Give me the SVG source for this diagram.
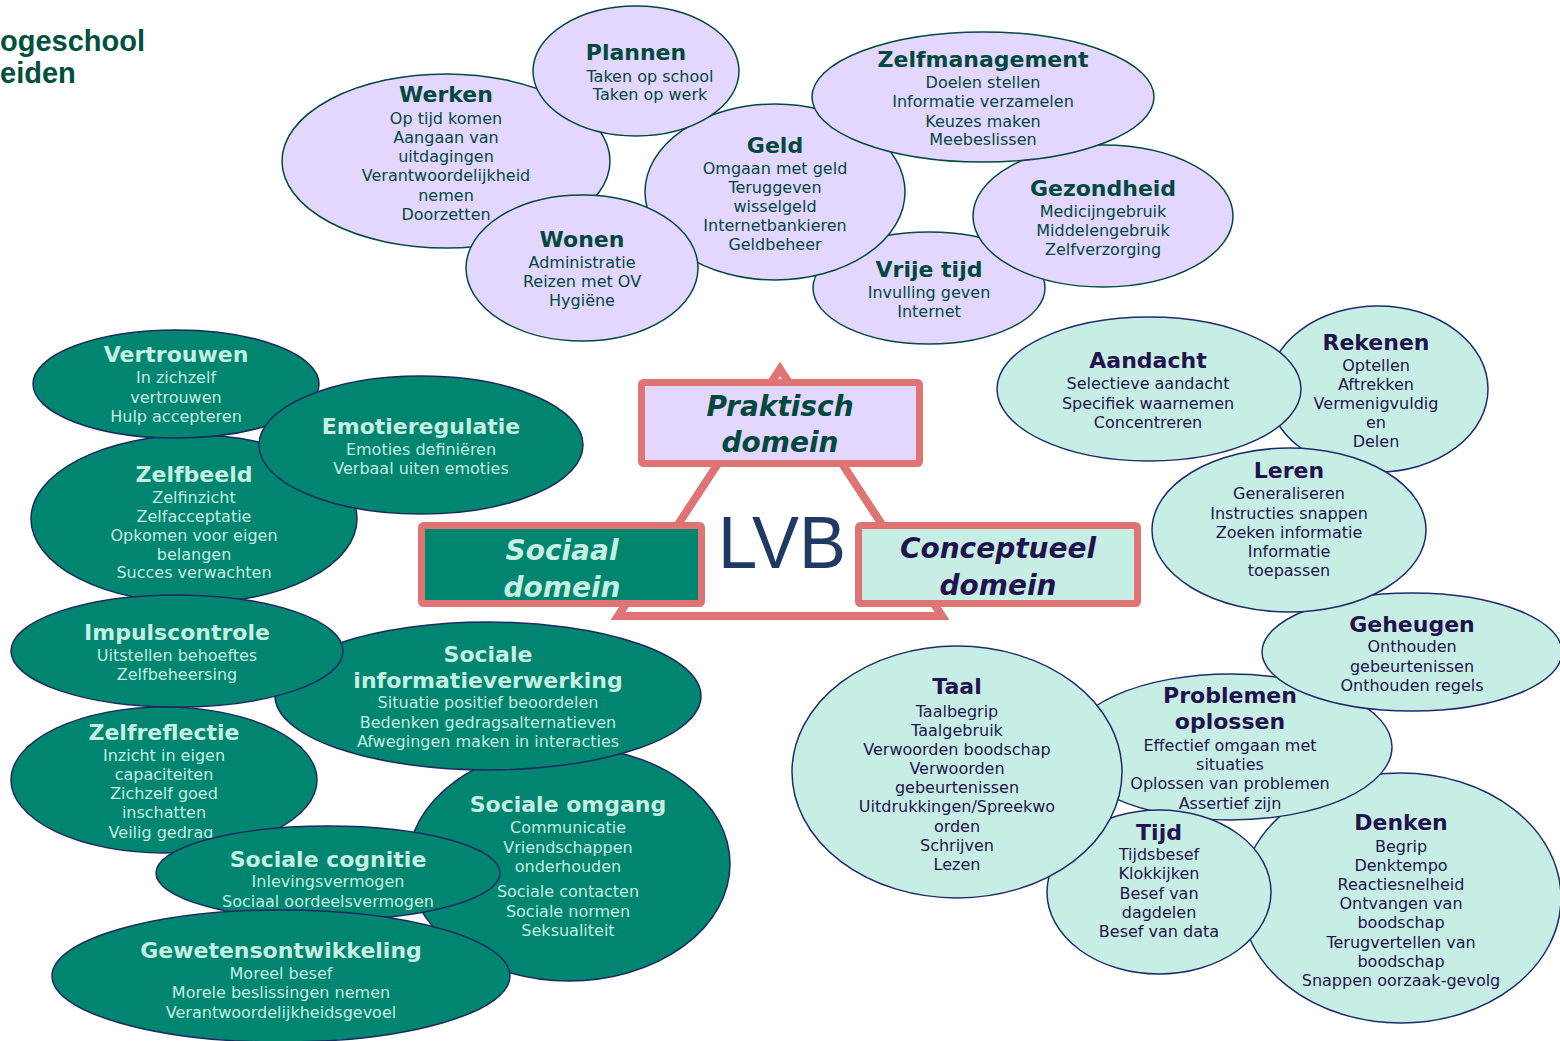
<svg xmlns="http://www.w3.org/2000/svg" width="1560" height="1041" viewBox="0 0 1560 1041">
<style>
text{font-family:"DejaVu Sans","Verdana",sans-serif;text-anchor:middle}
.pr ellipse{fill:#E3D6FF;stroke:#00493C;stroke-width:1.5}
.pr text{fill:#00493C}
.so ellipse{fill:#008570;stroke:#1C2A62;stroke-width:1.5}
.so text{fill:#C6EFE2}
.co ellipse{fill:#C7EEE4;stroke:#1F2C6B;stroke-width:1.5}
.co text{fill:#22134E}
.t{font-size:22px;font-weight:bold}
.b{font-size:16px}
.dom rect{stroke:#E07474;stroke-width:7}
.dl{font-size:28px;font-weight:bold;font-style:italic}
</style>
<rect width="1560" height="1041" fill="#ffffff"/>
<g id="logo">
<text x="0" y="51" style="font-family:'Liberation Sans',Arial,sans-serif;font-weight:bold;font-size:29px;text-anchor:start;fill:#00503F">ogeschool</text>
<text x="0" y="83" style="font-family:'Liberation Sans',Arial,sans-serif;font-weight:bold;font-size:29px;text-anchor:start;fill:#00503F">eiden</text>
</g>
<g id="connectors">
<path d="M780 369 L618 616 L942 616 Z" fill="none" stroke="#E07474" stroke-width="8" stroke-linejoin="miter"/>
</g>
<g id="praktisch-domein" class="dom">
<rect x="641.5" y="382.5" width="278" height="81" rx="2" fill="#E3D6FF"/>
<text x="780" y="416" class="dl" fill="#00493C">Praktisch</text>
<text x="780" y="452" class="dl" fill="#00493C">domein</text>
</g>
<g id="sociaal-domein" class="dom">
<rect x="421.5" y="525.5" width="280" height="78" rx="2" fill="#008570"/>
<text x="562" y="560" class="dl" fill="#C6EFE2">Sociaal</text>
<text x="562" y="597" class="dl" fill="#C6EFE2">domein</text>
</g>
<g id="conceptueel-domein" class="dom">
<rect x="858.5" y="525.5" width="279" height="78" rx="2" fill="#C7EEE4"/>
<text x="998" y="558" class="dl" fill="#22134E">Conceptueel</text>
<text x="998" y="595" class="dl" fill="#22134E">domein</text>
</g>
<g id="lvb">
<text x="782" y="568" style="font-family:'Liberation Sans',Arial,sans-serif;font-size:74px;fill:#1F3864" textLength="128" lengthAdjust="spacingAndGlyphs">LVB</text>
</g>

<!-- Praktisch -->
<g id="vrije-tijd" class="pr">
<ellipse cx="929" cy="288" rx="116" ry="56"/>
<text x="929" y="277" class="t">Vrije tijd</text>
<text class="b"><tspan x="929" y="298">Invulling geven</tspan><tspan x="929" y="317">Internet</tspan></text>
</g>
<g id="gezondheid" class="pr">
<ellipse cx="1103" cy="216" rx="130" ry="71"/>
<text x="1103" y="196" class="t">Gezondheid</text>
<text class="b"><tspan x="1103" y="217">Medicijngebruik</tspan><tspan x="1103" y="236">Middelengebruik</tspan><tspan x="1103" y="255">Zelfverzorging</tspan></text>
</g>
<g id="werken" class="pr">
<ellipse cx="446" cy="161" rx="164" ry="87"/>
<text x="446" y="102" class="t">Werken</text>
<text class="b"><tspan x="446" y="124">Op tijd komen</tspan><tspan x="446" y="143">Aangaan van</tspan><tspan x="446" y="162">uitdagingen</tspan><tspan x="446" y="181">Verantwoordelijkheid</tspan><tspan x="446" y="201">nemen</tspan><tspan x="446" y="220">Doorzetten</tspan></text>
</g>
<g id="geld" class="pr">
<ellipse cx="775" cy="192" rx="130" ry="88"/>
<text x="775" y="153" class="t">Geld</text>
<text class="b"><tspan x="775" y="174">Omgaan met geld</tspan><tspan x="775" y="193">Teruggeven</tspan><tspan x="775" y="212">wisselgeld</tspan><tspan x="775" y="231">Internetbankieren</tspan><tspan x="775" y="250">Geldbeheer</tspan></text>
</g>
<g id="wonen" class="pr">
<ellipse cx="582" cy="268" rx="116" ry="73"/>
<text x="582" y="247" class="t">Wonen</text>
<text class="b"><tspan x="582" y="268">Administratie</tspan><tspan x="582" y="287">Reizen met OV</tspan><tspan x="582" y="306">Hygiëne</tspan></text>
</g>
<g id="plannen" class="pr">
<ellipse cx="636" cy="71" rx="103" ry="65"/>
<text x="636" y="60" class="t">Plannen</text>
<text class="b"><tspan x="650" y="82">Taken op school</tspan><tspan x="650" y="100">Taken op werk</tspan></text>
</g>
<g id="zelfmanagement" class="pr">
<ellipse cx="983" cy="97" rx="171" ry="65"/>
<text x="983" y="67" class="t">Zelfmanagement</text>
<text class="b"><tspan x="983" y="88">Doelen stellen</tspan><tspan x="983" y="107">Informatie verzamelen</tspan><tspan x="983" y="127">Keuzes maken</tspan><tspan x="983" y="145">Meebeslissen</tspan></text>
</g>

<!-- Sociaal -->
<g id="zelfbeeld" class="so">
<ellipse cx="194" cy="519" rx="163" ry="84"/>
<text x="194" y="482" class="t">Zelfbeeld</text>
<text class="b"><tspan x="194" y="503">Zelfinzicht</tspan><tspan x="194" y="522">Zelfacceptatie</tspan><tspan x="194" y="541">Opkomen voor eigen</tspan><tspan x="194" y="560">belangen</tspan><tspan x="194" y="578">Succes verwachten</tspan></text>
</g>
<g id="vertrouwen" class="so">
<ellipse cx="176" cy="384" rx="143" ry="54"/>
<text x="176" y="362" class="t">Vertrouwen</text>
<text class="b"><tspan x="176" y="383">In zichzelf</tspan><tspan x="176" y="403">vertrouwen</tspan><tspan x="176" y="422">Hulp accepteren</tspan></text>
</g>
<g id="emotieregulatie" class="so">
<ellipse cx="421" cy="445" rx="162" ry="69"/>
<text x="421" y="434" class="t">Emotieregulatie</text>
<text class="b"><tspan x="421" y="455">Emoties definiëren</tspan><tspan x="421" y="474">Verbaal uiten emoties</tspan></text>
</g>
<g id="sociale-omgang" class="so">
<ellipse cx="569" cy="864" rx="161" ry="117"/>
<text x="568" y="812" class="t">Sociale omgang</text>
<text class="b"><tspan x="568" y="833">Communicatie</tspan><tspan x="568" y="853">Vriendschappen</tspan><tspan x="568" y="872">onderhouden</tspan><tspan x="568" y="897">Sociale contacten</tspan><tspan x="568" y="917">Sociale normen</tspan><tspan x="568" y="936">Seksualiteit</tspan></text>
</g>
<g id="sociale-informatieverwerking" class="so">
<ellipse cx="488" cy="696" rx="213" ry="74"/>
<text x="488" y="662" class="t">Sociale</text>
<text x="488" y="688" class="t">informatieverwerking</text>
<text class="b"><tspan x="488" y="708">Situatie positief beoordelen</tspan><tspan x="488" y="728">Bedenken gedragsalternatieven</tspan><tspan x="488" y="747">Afwegingen maken in interacties</tspan></text>
</g>
<g id="zelfreflectie" class="so">
<ellipse cx="164" cy="780" rx="153" ry="73"/>
<text x="164" y="740" class="t">Zelfreflectie</text>
<text class="b"><tspan x="164" y="761">Inzicht in eigen</tspan><tspan x="164" y="780">capaciteiten</tspan><tspan x="164" y="799">Zichzelf goed</tspan><tspan x="164" y="818">inschatten</tspan><tspan x="161" y="838">Veilig gedrag</tspan></text>
</g>
<g id="impulscontrole" class="so">
<ellipse cx="177" cy="651" rx="166" ry="56"/>
<text x="177" y="640" class="t">Impulscontrole</text>
<text class="b"><tspan x="177" y="661">Uitstellen behoeftes</tspan><tspan x="177" y="680">Zelfbeheersing</tspan></text>
</g>
<g id="sociale-cognitie" class="so">
<ellipse cx="328" cy="873" rx="172" ry="47"/>
<text x="328" y="867" class="t">Sociale cognitie</text>
<text class="b"><tspan x="328" y="887">Inlevingsvermogen</tspan><tspan x="328" y="907">Sociaal oordeelsvermogen</tspan></text>
</g>
<g id="gewetensontwikkeling" class="so">
<ellipse cx="281" cy="976" rx="229" ry="66"/>
<text x="281" y="958" class="t">Gewetensontwikkeling</text>
<text class="b"><tspan x="281" y="979">Moreel besef</tspan><tspan x="281" y="998">Morele beslissingen nemen</tspan><tspan x="281" y="1018">Verantwoordelijkheidsgevoel</tspan></text>
</g>

<!-- Conceptueel -->
<g id="rekenen" class="co">
<ellipse cx="1378" cy="389" rx="110" ry="83"/>
<text x="1376" y="350" class="t">Rekenen</text>
<text class="b"><tspan x="1376" y="371">Optellen</tspan><tspan x="1376" y="390">Aftrekken</tspan><tspan x="1376" y="409">Vermenigvuldig</tspan><tspan x="1376" y="428">en</tspan><tspan x="1376" y="447">Delen</tspan></text>
</g>
<g id="aandacht" class="co">
<ellipse cx="1149" cy="389" rx="152" ry="72"/>
<text x="1148" y="368" class="t">Aandacht</text>
<text class="b"><tspan x="1148" y="389">Selectieve aandacht</tspan><tspan x="1148" y="409">Specifiek waarnemen</tspan><tspan x="1148" y="428">Concentreren</tspan></text>
</g>
<g id="denken" class="co">
<ellipse cx="1401" cy="898" rx="160" ry="125"/>
<text x="1401" y="830" class="t">Denken</text>
<text class="b"><tspan x="1401" y="852">Begrip</tspan><tspan x="1401" y="871">Denktempo</tspan><tspan x="1401" y="890">Reactiesnelheid</tspan><tspan x="1401" y="909">Ontvangen van</tspan><tspan x="1401" y="928">boodschap</tspan><tspan x="1401" y="948">Terugvertellen van</tspan><tspan x="1401" y="967">boodschap</tspan><tspan x="1401" y="986">Snappen oorzaak-gevolg</tspan></text>
</g>
<g id="problemen-oplossen" class="co">
<ellipse cx="1230" cy="747" rx="162" ry="73"/>
<text x="1230" y="703" class="t">Problemen</text>
<text x="1230" y="729" class="t">oplossen</text>
<text class="b"><tspan x="1230" y="751">Effectief omgaan met</tspan><tspan x="1230" y="770">situaties</tspan><tspan x="1230" y="789">Oplossen van problemen</tspan><tspan x="1230" y="809">Assertief zijn</tspan></text>
</g>
<g id="geheugen" class="co">
<ellipse cx="1412" cy="652" rx="150" ry="59"/>
<text x="1412" y="632" class="t">Geheugen</text>
<text class="b"><tspan x="1412" y="652">Onthouden</tspan><tspan x="1412" y="672">gebeurtenissen</tspan><tspan x="1412" y="691">Onthouden regels</tspan></text>
</g>
<g id="leren" class="co">
<ellipse cx="1289" cy="530" rx="137" ry="82"/>
<text x="1289" y="478" class="t">Leren</text>
<text class="b"><tspan x="1289" y="499">Generaliseren</tspan><tspan x="1289" y="519">Instructies snappen</tspan><tspan x="1289" y="538">Zoeken informatie</tspan><tspan x="1289" y="557">Informatie</tspan><tspan x="1289" y="576">toepassen</tspan></text>
</g>
<g id="tijd" class="co">
<ellipse cx="1159" cy="892" rx="112" ry="82"/>
<text x="1159" y="840" class="t">Tijd</text>
<text class="b"><tspan x="1159" y="860">Tijdsbesef</tspan><tspan x="1159" y="879">Klokkijken</tspan><tspan x="1159" y="899">Besef van</tspan><tspan x="1159" y="918">dagdelen</tspan><tspan x="1159" y="937">Besef van data</tspan></text>
</g>
<g id="taal" class="co">
<ellipse cx="957" cy="772" rx="165" ry="126"/>
<text x="957" y="694" class="t">Taal</text>
<text class="b"><tspan x="957" y="717">Taalbegrip</tspan><tspan x="957" y="736">Taalgebruik</tspan><tspan x="957" y="755">Verwoorden boodschap</tspan><tspan x="957" y="774">Verwoorden</tspan><tspan x="957" y="793">gebeurtenissen</tspan><tspan x="957" y="812">Uitdrukkingen/Spreekwo</tspan><tspan x="957" y="832">orden</tspan><tspan x="957" y="851">Schrijven</tspan><tspan x="957" y="870">Lezen</tspan></text>
</g>
</svg>
